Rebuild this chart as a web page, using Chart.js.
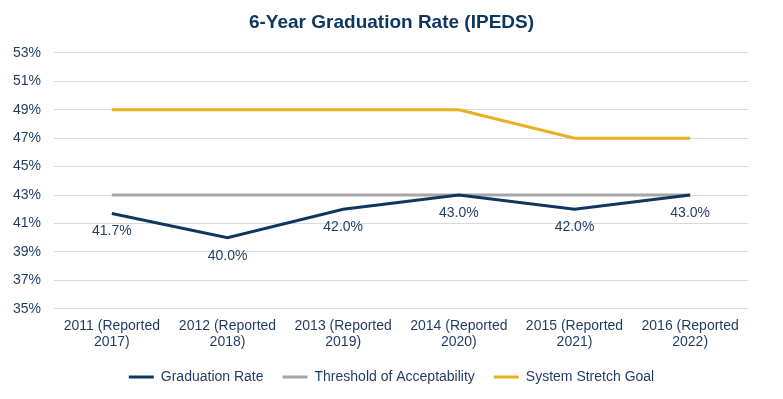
<!DOCTYPE html>
<html><head><meta charset="utf-8">
<script src="https://cdn.jsdelivr.net/npm/chart.js@4"></script>
<style>html,body{margin:0;padding:0;background:#fff}#wrap{width:783px;height:399px}</style>
</head><body><div id="wrap"><canvas id="c"></canvas></div>
<script>
const categories = [["2011 (Reported","2017)"],["2012 (Reported","2018)"],["2013 (Reported","2019)"],["2014 (Reported","2020)"],["2015 (Reported","2021)"],["2016 (Reported","2022)"]];
const graduationRate = [41.7, 40.0, 42.0, 43.0, 42.0, 43.0];
const threshold = [43, 43, 43, 43, 43, 43];
const stretchGoal = [49, 49, 49, 49, 47, 47];
const yMin = 35, yMax = 53, yStep = 2;

const textColor = '#1F3A5F';
const FONT = '"Liberation Sans", Arial, sans-serif';
const labelPlugin = {
  id: 'valLabels',
  afterDatasetsDraw(chart) {
    const ctx = chart.ctx;
    const meta = chart.getDatasetMeta(0);
    ctx.save();
    ctx.font = '14px ' + FONT;
    ctx.fillStyle = textColor;
    ctx.textAlign = 'center';
    ctx.textBaseline = 'middle';
    meta.data.forEach((pt, i) => {
      ctx.fillText(graduationRate[i].toFixed(1) + '%', pt.x, pt.y + 18);
    });
    ctx.restore();
  }
};

new Chart(document.getElementById('c'), {
  type: 'line',
  data: {
    labels: categories,
    datasets: [
      {label: 'Graduation Rate', data: graduationRate, borderColor: '#0E3760', backgroundColor: '#0E3760', borderWidth: 3, pointRadius: 0, tension: 0},
      {label: 'Threshold of Acceptability', data: threshold, borderColor: '#A6A6A6', backgroundColor: '#A6A6A6', borderWidth: 3, pointRadius: 0},
      {label: 'System Stretch Goal', data: stretchGoal, borderColor: '#E8B020', backgroundColor: '#E8B020', borderWidth: 3, pointRadius: 0}
    ]
  },
  options: {
    responsive: true, maintainAspectRatio: false, animation: false,
    layout: {padding: {left: 0, right: 0, top: 0, bottom: 5}},
    plugins: {
      title: {display: true, text: '6-Year Graduation Rate (IPEDS)', color: '#0E3760', font: {family: FONT, size: 19, weight: 'bold'}, padding: {top: 11, bottom: 19}},
      legend: {position: 'bottom', labels: {color: textColor, font: {family: FONT, size: 14}, boxWidth: 25, boxHeight: 3, padding: 19,
        generateLabels(chart) {
          return chart.data.datasets.map((d, i) => ({text: d.label, fillStyle: d.borderColor, strokeStyle: d.borderColor, lineWidth: 0, datasetIndex: i, fontColor: textColor}));
        }}},
      tooltip: {enabled: false}
    },
    scales: {
      x: {offset: true, grid: {display: false}, border: {display: false},
        ticks: {color: textColor, font: {family: FONT, size: 14, lineHeight: 1.15}, maxRotation: 0, padding: 1}},
      y: {min: yMin, max: yMax, grid: {color: '#D9D9D9', drawTicks: false}, border: {display: false},
        ticks: {stepSize: yStep, color: textColor, padding: 13, font: {family: FONT, size: 14}, callback: v => v + '%'}},
      yRight: {position: 'right', display: true, grid: {display: false}, border: {display: false},
        ticks: {display: false}, afterFit(scale) { scale.width = 35; }}
    }
  },
  plugins: [labelPlugin]
});
</script></body></html>
